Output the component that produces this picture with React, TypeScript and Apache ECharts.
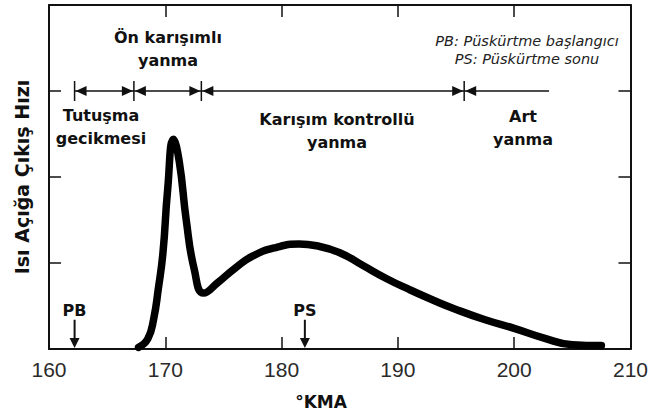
import React, { useEffect, useRef } from "react";
import * as echarts from "echarts";

// Heat release rate curve (°KMA vs relative rate, y axis 0..4 units)
const kma = [167.7, 168.5, 169.0, 169.4, 169.8, 170.2, 170.7, 171.2, 171.8, 172.5, 173.3, 174.5, 176.0, 177.5, 179.5, 181.5, 183.0, 185.0, 187.0, 189.0, 191.0, 193.0, 195.0, 197.5, 200.0, 202.5, 205.0, 207.5];
const rate = [0.02, 0.12, 0.35, 0.70, 1.12, 1.85, 2.44, 2.18, 1.50, 0.92, 0.65, 0.77, 0.94, 1.08, 1.18, 1.22, 1.20, 1.12, 0.97, 0.82, 0.69, 0.57, 0.46, 0.34, 0.24, 0.13, 0.05, 0.04];

// Combustion phase boundaries on the annotation line
const phaseBounds = [162.2, 167.3, 173.1, 195.7];
const phaseLineEnd = 203;
const phaseLevel = 3;

// Injection markers
const injNames = ["PB", "PS"];
const injKma = [162.2, 182.0];

const xTicks = { min: 160, max: 210, interval: 10 };
const yTicks = { min: 0, max: 4, interval: 1 };

const phaseLabels = [
  { text: "Ön karışımlı\nyanma", x: 168, y: 49 },
  { text: "Tutuşma\ngecikmesi", x: 101, y: 127 },
  { text: "Karışım kontrollü\nyanma", x: 337, y: 131 },
  { text: "Art\nyanma", x: 523, y: 128 },
];

const INK = "#111";

export default function App() {
  const ref = useRef<HTMLDivElement>(null);
  useEffect(() => {
    if (!ref.current) return;
    const chart = echarts.init(ref.current, null, { renderer: "svg" });
    const axisLine = { show: true, onZero: false, lineStyle: { color: INK, width: 2 } };
    const axisTick = { show: true, inside: true, length: 12, lineStyle: { color: INK, width: 1.5 } };
    const option: any = {
      animation: false,
      backgroundColor: "#fff",
      grid: { left: 49, right: 15, top: 5, bottom: 67, containLabel: false },
      xAxis: [
        {
          type: "value", ...xTicks, position: "bottom",
          axisLine, axisTick,
          axisLabel: { fontSize: 21, fontFamily: "Liberation Sans", color: "#2a2a2a", margin: 10 },
          splitLine: { show: false },
        },
        {
          type: "value", ...xTicks, position: "top",
          axisLine, axisTick, axisLabel: { show: false }, splitLine: { show: false },
        },
      ],
      yAxis: [
        {
          type: "value", ...yTicks, position: "left",
          axisLine, axisTick, axisLabel: { show: false }, splitLine: { show: false },
        },
        {
          type: "value", ...yTicks, position: "right",
          axisLine, axisTick, axisLabel: { show: false }, splitLine: { show: false },
        },
      ],
      series: [
        {
          type: "line",
          data: kma.map((k, i) => [k, rate[i]]),
          symbol: "none",
          smooth: 0.5,
          lineStyle: { color: "#000", width: 7.5, cap: "round", join: "round" },
          z: 5,
        },
        {
          type: "line",
          data: [[phaseBounds[0], phaseLevel], [phaseLineEnd, phaseLevel]],
          symbol: "none",
          lineStyle: { color: INK, width: 1.5 },
        },
        {
          type: "custom",
          coordinateSystem: "cartesian2d",
          data: phaseBounds.map((b, i) => [b, i]),
          renderItem: (params: any, api: any) => {
            const p = api.coord([api.value(0), phaseLevel]);
            const i = api.value(1);
            const L = 12, H = 5;
            const children: any[] = [
              { type: "line", shape: { x1: p[0], y1: p[1] - 10, x2: p[0], y2: p[1] + 10 }, style: { stroke: INK, lineWidth: 1.5 } },
              { type: "polygon", shape: { points: [[p[0] + L, p[1] - H], [p[0] + 1, p[1]], [p[0] + L, p[1] + H]] }, style: { fill: INK } },
            ];
            if (i > 0) {
              children.push({ type: "polygon", shape: { points: [[p[0] - L, p[1] - H], [p[0] - 1, p[1]], [p[0] - L, p[1] + H]] }, style: { fill: INK } });
            }
            return { type: "group", children };
          },
        },
        {
          type: "custom",
          coordinateSystem: "cartesian2d",
          data: injKma.map((k, i) => [k, i]),
          renderItem: (params: any, api: any) => {
            const bottom = api.coord([api.value(0), 0]);
            const top = api.coord([api.value(0), 0.34]);
            const lbl = api.coord([api.value(0), 0.45]);
            const x = bottom[0];
            return {
              type: "group",
              children: [
                { type: "line", shape: { x1: x, y1: top[1], x2: x, y2: bottom[1] - 8 }, style: { stroke: INK, lineWidth: 2 } },
                { type: "polygon", shape: { points: [[x - 5, bottom[1] - 11], [x, bottom[1] - 1], [x + 5, bottom[1] - 11]] }, style: { fill: INK } },
                { type: "text", style: { text: injNames[params.dataIndex], x, y: lbl[1], textAlign: "center", textVerticalAlign: "middle", font: 'bold 16px "DejaVu Sans"', fill: INK } },
              ],
            };
          },
        },
      ],
      graphic: [
        ...phaseLabels.map((l) => ({
          type: "text", x: l.x, y: l.y,
          style: { text: l.text, textAlign: "center", textVerticalAlign: "middle", font: 'bold 16px "DejaVu Sans"', lineHeight: 23, fill: INK },
        })),
        {
          type: "text", x: 527, y: 50,
          style: { text: "PB: Püskürtme başlangıcı\nPS: Püskürtme sonu", textAlign: "center", textVerticalAlign: "middle", font: 'oblique 14.5px "DejaVu Sans"', lineHeight: 18, fill: "#222" },
        },
        {
          type: "text", x: 22, y: 177, rotation: Math.PI / 2,
          style: { text: "Isı Açığa Çıkış Hızı", textAlign: "center", textVerticalAlign: "middle", font: 'bold 19px "DejaVu Sans"', fill: INK },
        },
        {
          type: "text", x: 321, y: 402,
          style: { text: "°KMA", textAlign: "center", textVerticalAlign: "middle", font: 'bold 17px "DejaVu Sans"', fill: INK },
        },
      ],
    };
    chart.setOption(option);
    return () => chart.dispose();
  }, []);
  return <div ref={ref} style={{ position: "absolute", left: 0, top: 0, width: 651, height: 416 }} />;
}
